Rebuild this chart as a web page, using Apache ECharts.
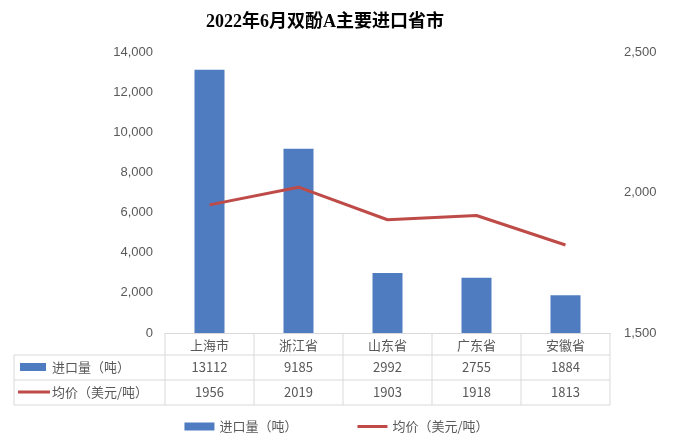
<!DOCTYPE html>
<html><head><meta charset="utf-8">
<script src="https://cdn.jsdelivr.net/npm/echarts@6/dist/echarts.min.js"></script>
<style>body{margin:0}#c{width:673px;height:440px}</style></head>
<body><div id="c"></div>
<script>
const categories=['上海市','浙江省','山东省','广东省','安徽省'];
const volume=[13112,9185,2992,2755,1884];
const price=[1956,2019,1903,1918,1813];
const seriesNames=['进口量（吨）','均价（美元/吨）'];
const chart=echarts.init(document.getElementById('c'));
const L=165,R=610,T=52,B=333;
const colW=(R-L)/categories.length;
const gc='#d9d9d9', tc='#595959', font='Noto Sans CJK SC';
const g=[];
const line=(x1,y1,x2,y2)=>g.push({type:'line',shape:{x1,y1,x2,y2},style:{stroke:gc,lineWidth:1},silent:true});
[355,380,405].forEach(y=>line(14,y,R,y));
line(14,355,14,405);
for(let i=0;i<=categories.length;i++) line(L+i*colW,B,L+i*colW,405);
const txt=(x,y,t,align)=>g.push({type:'text',x,y,style:{text:t,fill:tc,font:'13px "'+font+'"',textAlign:align||'center',textVerticalAlign:'middle'}});
g.push({type:'rect',shape:{x:20,y:363,width:26,height:8},style:{fill:'#4f7cc1'}});
g.push({type:'line',shape:{x1:18,y1:392,x2:50,y2:392},style:{stroke:'#be4b48',lineWidth:3}});
txt(52,367,seriesNames[0],'left');txt(52,392,seriesNames[1],'left');
categories.forEach((c,i)=>{const cx=L+(i+0.5)*colW;txt(cx,367,String(volume[i]));txt(cx,392,String(price[i]));});
chart.setOption({
 title:{text:'2022年6月双酚A主要进口省市',left:320,top:8,textAlign:'center',textStyle:{fontFamily:'Liberation Serif, Noto Sans CJK SC',fontWeight:'bold',fontSize:18,color:'#000'}},
 legend:{bottom:2,left:'center',itemGap:60,textStyle:{fontFamily:font,fontSize:13,color:tc},
   data:[{name:seriesNames[0],icon:'rect',itemStyle:{}},{name:seriesNames[1],icon:'path://M0,0H30V3H0Z'}],itemWidth:30,itemHeight:8},
 grid:{left:L,right:673-R,top:T,bottom:440-B},
 xAxis:{type:'category',data:categories,axisTick:{show:false},axisLine:{lineStyle:{color:gc}},
   axisLabel:{color:tc,fontFamily:font,fontSize:13,margin:6}},
 yAxis:[{type:'value',min:0,max:14000,interval:2000,splitLine:{show:false},axisLabel:{color:tc,fontSize:13,margin:12}},
   {type:'value',min:1500,max:2500,interval:500,splitLine:{show:false},axisLabel:{color:tc,fontSize:13,margin:14}}],
 series:[{name:seriesNames[0],type:'bar',data:volume,barWidth:30,itemStyle:{color:'#4f7cc1'}},
   {name:seriesNames[1],type:'line',yAxisIndex:1,data:price,symbol:'none',lineStyle:{color:'#be4b48',width:3},itemStyle:{color:'#be4b48'}}],
 graphic:g
});
</script></body></html>
